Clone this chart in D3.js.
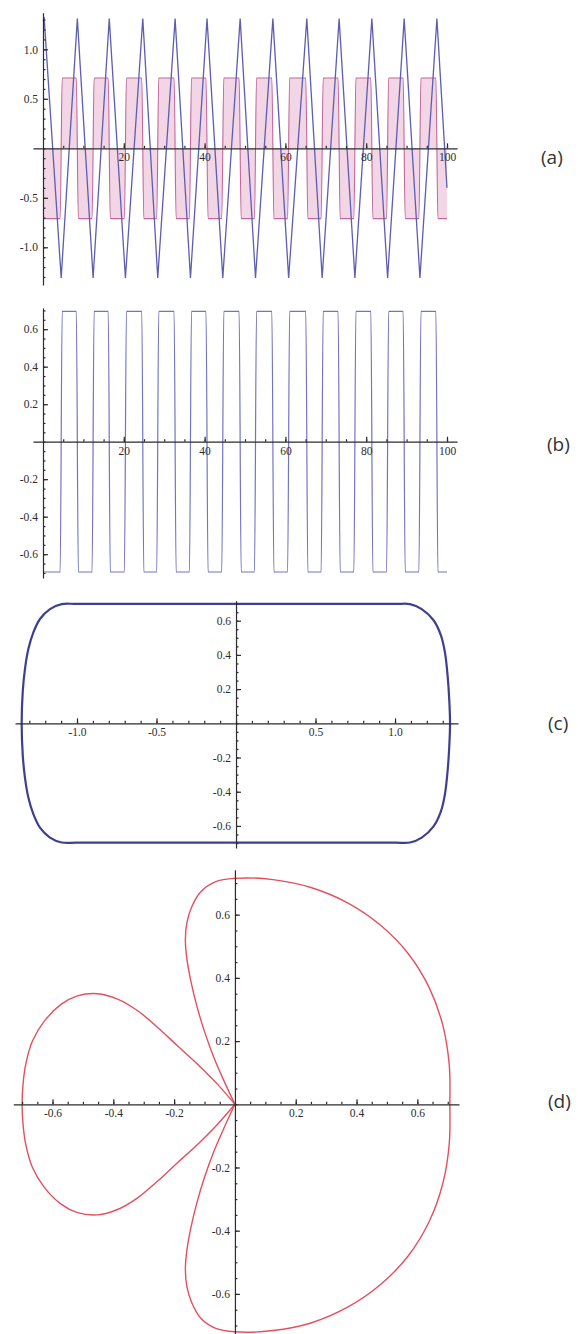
<!DOCTYPE html>
<html>
<head>
<meta charset="utf-8">
<script src="https://cdn.jsdelivr.net/npm/d3@7"></script>
<style>
body { margin: 0; background: #fff; }
.axis path, .axis line { stroke: #2b2b2b; stroke-width: 1.2; }
.axis text { font-family: "Liberation Serif", serif; font-size: 11.5px; fill: #2b2b2b; }
.panel-label { font-family: "Open Sans", sans-serif; font-size: 19px; fill: #333; }
</style>
</head>
<body>
<svg id="chart" width="578" height="1334"></svg>
<script>
// (a) triangle wave, corners (time, value)
var blueT = [0, 0.3, 4.5, 8.5, 12.4, 16.4, 20.4, 24.7, 28.4, 32.7, 36.5, 40.6, 44.5, 48.8,
             52.6, 56.9, 60.8, 65.3, 69.1, 73.3, 77.2, 81.4, 85.3, 89.4, 93.3, 97.5, 100];
var blueV = [1.29, 1.31, -1.31, 1.31, -1.31, 1.31, -1.31, 1.31, -1.31, 1.31, -1.31, 1.31, -1.31, 1.31,
             -1.31, 1.31, -1.31, 1.31, -1.31, 1.31, -1.31, 1.31, -1.31, 1.31, -1.31, 1.31, -0.4];

// square waves in (a) and (b): switch up / switch down times and plateau levels
var riseT = [4.5, 12.4, 20.4, 28.4, 36.5, 44.5, 52.6, 60.8, 69.1, 77.2, 85.3, 93.3];
var fallT = [8.5, 16.4, 24.7, 32.7, 40.6, 48.8, 56.9, 65.3, 73.3, 81.4, 89.4, 97.5];
var pinkLevel = 0.71;
var squareLevel = 0.695;

// (c) closed cycle, clockwise from the top left corner
var cX = [-1.096, -1.0, -0.5, 0, 0.5, 1.0, 1.094, 1.168, 1.241, 1.288, 1.314, 1.331, 1.341, 1.346, 1.341, 1.331,
          1.314, 1.288, 1.241, 1.168, 1.094, 1.0, 0.5, 0, -0.5, -1.0, -1.096, -1.17, -1.233, -1.275, -1.306,
          -1.327, -1.341, -1.348, -1.341, -1.327, -1.306, -1.275, -1.233, -1.17];
var cY = [0.697, 0.698, 0.698, 0.698, 0.698, 0.698, 0.697, 0.668, 0.604, 0.516, 0.414, 0.274, 0.137, 0, -0.137, -0.274,
          -0.414, -0.516, -0.604, -0.668, -0.697, -0.698, -0.698, -0.698, -0.698, -0.698, -0.697, -0.668, -0.61,
          -0.53, -0.434, -0.32, -0.19, 0, 0.19, 0.32, 0.434, 0.53, 0.61, 0.668];

// (d) big lobe: origin, upper petal, right side, lower petal, back to origin
var dRightX = [0, -0.036, -0.07, -0.1, -0.125, -0.145, -0.158, -0.163, -0.158, -0.142, -0.113, -0.065, 0,
               0.125, 0.25, 0.369, 0.477, 0.569, 0.639, 0.684, 0.705, 0.707, 0.705, 0.684, 0.639, 0.569,
               0.477, 0.369, 0.25, 0.125, 0, -0.065, -0.113, -0.142, -0.158, -0.163, -0.158, -0.145,
               -0.125, -0.1, -0.07, -0.036, 0];
var dRightY = [0, 0.074, 0.15, 0.23, 0.31, 0.39, 0.46, 0.52, 0.575, 0.625, 0.672, 0.704, 0.715,
               0.711, 0.686, 0.638, 0.568, 0.478, 0.369, 0.249, 0.124, 0, -0.124, -0.25, -0.371, -0.481,
               -0.572, -0.643, -0.692, -0.716, -0.72, -0.708, -0.676, -0.628, -0.577, -0.522, -0.462,
               -0.391, -0.311, -0.231, -0.151, -0.075, 0];
// (d) left lobe
var dLeftX = [0, -0.057, -0.123, -0.189, -0.254, -0.32, -0.386, -0.452, -0.518, -0.572, -0.627, -0.666, -0.688,
              -0.697, -0.7, -0.697, -0.688, -0.666, -0.627, -0.572, -0.518, -0.452, -0.386, -0.32, -0.254,
              -0.189, -0.123, -0.057, 0];
var dLeftY = [0, 0.063, 0.127, 0.185, 0.243, 0.296, 0.333, 0.35, 0.343, 0.316, 0.263, 0.2, 0.127,
              0.063, 0, -0.063, -0.127, -0.2, -0.263, -0.316, -0.343, -0.35, -0.333, -0.296, -0.243,
              -0.185, -0.127, -0.063, 0];

// tick labels
var timeTicks = [20, 40, 60, 80, 100];
var aYTicks = [-1.0, -0.5, 0.5, 1.0];
var smallTicks = [-0.6, -0.4, -0.2, 0.2, 0.4, 0.6];
var cXTicks = [-1.0, -0.5, 0.5, 1.0];
var panelNames = ['(a)', '(b)', '(c)', '(d)'];

var svg = d3.select('#chart');

var fmt = function (p) {
    return function (d) { return d3.format(p)(d).replace('\u2212', '-'); };
};

// x axis on y = 0, y axis on x = 0, Mathematica-like ticks pointing inwards
var drawAxes = function (o) {
    var g = svg.append('g');
    g.append('g').attr('class', 'axis')
        .attr('transform', 'translate(0,' + o.y(0) + ')')
        .call(d3.axisBottom(o.x).tickValues(o.xMinor).tickSizeInner(-2.5).tickSizeOuter(0).tickFormat(''))
        .call(function (s) { s.select('.domain').remove(); });
    g.append('g').attr('class', 'axis')
        .attr('transform', 'translate(0,' + o.y(0) + ')')
        .call(d3.axisBottom(o.x).tickValues(o.xMajor).tickSizeInner(-5).tickSizeOuter(0)
            .tickPadding(5).tickFormat(o.xFmt));
    g.append('g').attr('class', 'axis')
        .attr('transform', 'translate(' + o.x(0) + ',0)')
        .call(d3.axisLeft(o.y).tickValues(o.yMinor).tickSizeInner(-2.5).tickSizeOuter(0).tickFormat(''))
        .call(function (s) { s.select('.domain').remove(); });
    g.append('g').attr('class', 'axis')
        .attr('transform', 'translate(' + o.x(0) + ',0)')
        .call(d3.axisLeft(o.y).tickValues(o.yMajor).tickSizeInner(-5).tickSizeOuter(0)
            .tickPadding(5).tickFormat(o.yFmt));
};

var squarePoints = function (level) {
    var ramp = 0.25;
    var ev = riseT.map(function (t) { return [t, 1]; })
        .concat(fallT.map(function (t) { return [t, -1]; }))
        .sort(function (a, b) { return a[0] - b[0]; });
    var pts = [[0, -level]];
    ev.forEach(function (e) {
        pts.push([e[0] - ramp, -e[1] * level]);
        pts.push([e[0] + ramp, e[1] * level]);
    });
    pts.push([100, -level]);
    return pts;
};

var minorRange = function (a, b, s) {
    return d3.range(Math.round(a / s), Math.round(b / s) + 1).map(function (i) { return +(i * s).toFixed(3); });
};

// ---- (a)
var xA = d3.scaleLinear().domain([-2.5, 102.5]).range([32.9, 457.1]);
var yA = d3.scaleLinear().domain([-1.38, 1.37]).range([284.9, 12.7]);
var pinkPts = squarePoints(pinkLevel);
svg.append('path')
    .datum(pinkPts)
    .attr('fill', '#f3d6e6')
    .attr('d', d3.area().x(function (d) { return xA(d[0]); }).y0(yA(0))
        .y1(function (d) { return yA(d[1]); }).curve(d3.curveMonotoneX));
svg.append('path')
    .datum(pinkPts)
    .attr('fill', 'none').attr('stroke', '#c0689a').attr('stroke-width', 1.1)
    .attr('d', d3.line().x(function (d) { return xA(d[0]); })
        .y(function (d) { return yA(d[1]); }).curve(d3.curveMonotoneX));
svg.append('path')
    .datum(d3.zip(blueT, blueV))
    .attr('fill', 'none').attr('stroke', '#5d5db2').attr('stroke-width', 1.3)
    .attr('d', d3.line().x(function (d) { return xA(d[0]); }).y(function (d) { return yA(d[1]); }));
drawAxes({ x: xA, y: yA, xMajor: timeTicks, xMinor: minorRange(5, 100, 5), xFmt: fmt('d'),
    yMajor: aYTicks, yMinor: minorRange(-1.3, 1.3, 0.1), yFmt: fmt('.1f') });

// ---- (b)
var yB = d3.scaleLinear().domain([-0.727, 0.713]).range([578, 308]);
svg.append('path')
    .datum(squarePoints(squareLevel))
    .attr('fill', 'none').attr('stroke', '#7373c2').attr('stroke-width', 1.2)
    .attr('d', d3.line().x(function (d) { return xA(d[0]); })
        .y(function (d) { return yB(d[1]); }).curve(d3.curveMonotoneX));
drawAxes({ x: xA, y: yB, xMajor: timeTicks, xMinor: minorRange(5, 100, 5), xFmt: fmt('d'),
    yMajor: smallTicks, yMinor: minorRange(-0.7, 0.7, 0.05), yFmt: fmt('.1f') });

// ---- (c)
var xC = d3.scaleLinear().domain([-1.39, 1.396]).range([15, 458]);
var yC = d3.scaleLinear().domain([-0.729, 0.717]).range([848, 600.7]);
svg.append('path')
    .datum(d3.zip(cX, cY))
    .attr('fill', 'none').attr('stroke', '#3f3f92').attr('stroke-width', 2.2)
    .attr('d', d3.line().x(function (d) { return xC(d[0]); })
        .y(function (d) { return yC(d[1]); }).curve(d3.curveCatmullRomClosed));
drawAxes({ x: xC, y: yC, xMajor: cXTicks, xMinor: minorRange(-1.3, 1.3, 0.1), xFmt: fmt('.1f'),
    yMajor: smallTicks, yMinor: minorRange(-0.7, 0.7, 0.05), yFmt: fmt('.1f') });

// ---- (d)
var xD = d3.scaleLinear().domain([-0.729, 0.737]).range([13.3, 459]);
var yD = d3.scaleLinear().domain([-0.725, 0.742]).range([1333.4, 869.8]);
var lineD = d3.line().x(function (d) { return xD(d[0]); })
    .y(function (d) { return yD(d[1]); }).curve(d3.curveCatmullRom);
[d3.zip(dRightX, dRightY), d3.zip(dLeftX, dLeftY)].forEach(function (lobe) {
    svg.append('path')
        .datum(lobe)
        .attr('fill', 'none').attr('stroke', '#e2505e').attr('stroke-width', 1.4)
        .attr('d', lineD);
});
drawAxes({ x: xD, y: yD, xMajor: smallTicks, xMinor: minorRange(-0.7, 0.7, 0.05), xFmt: fmt('.1f'),
    yMajor: smallTicks, yMinor: minorRange(-0.7, 0.7, 0.05), yFmt: fmt('.1f') });

// panel letters
var labelPos = [[541, 164], [547, 451], [548, 730], [548, 1108]];
svg.selectAll('.panel-label')
    .data(panelNames)
    .enter().append('text')
    .attr('class', 'panel-label')
    .attr('x', function (d, i) { return labelPos[i][0]; })
    .attr('y', function (d, i) { return labelPos[i][1]; })
    .text(function (d) { return d; });
</script>
</body>
</html>
